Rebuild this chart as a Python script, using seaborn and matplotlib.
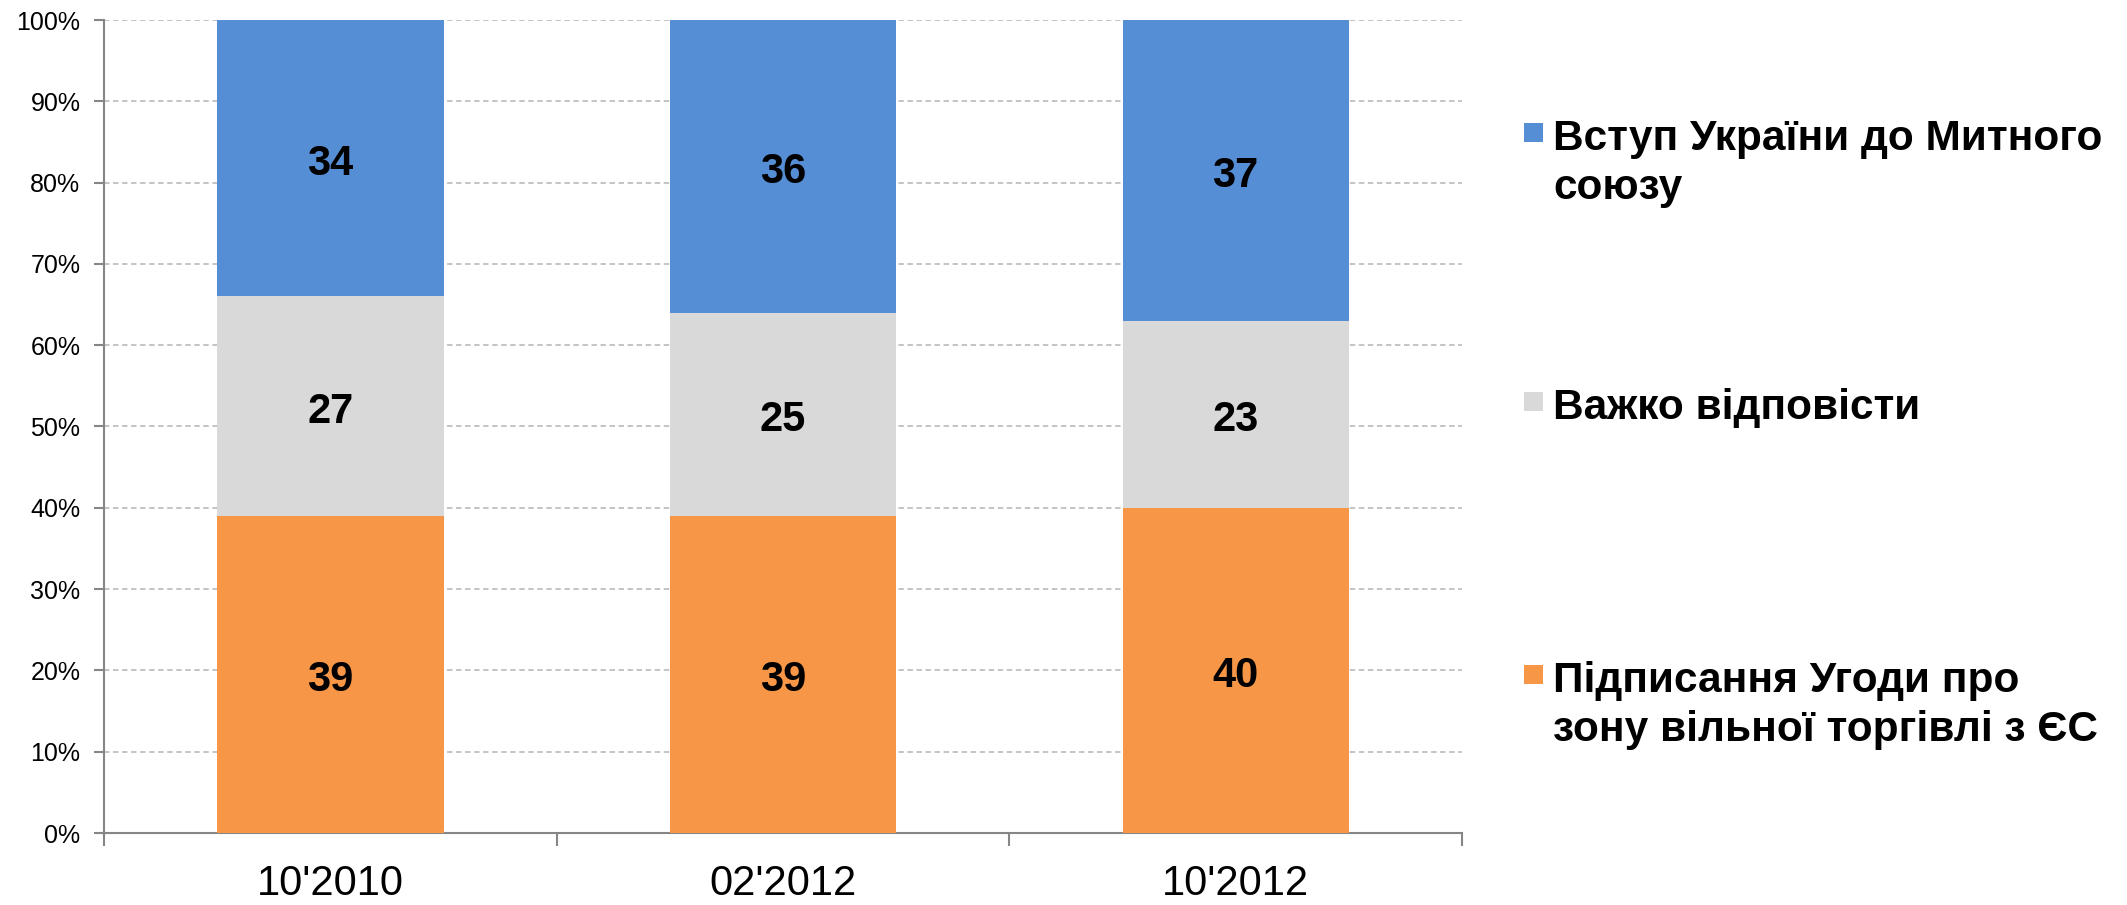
import matplotlib
matplotlib.use("Agg")
import matplotlib.pyplot as plt
import seaborn as sns
import pandas as pd
import numpy as np
from matplotlib.patches import Rectangle

periods = ["10'2010", "02'2012", "10'2012"]
eu_values = [39, 39, 40]          # Підписання Угоди про ЗВТ з ЄС
hard_values = [27, 25, 23]        # Важко відповісти
cu_values = [34, 36, 37]          # Вступ до Митного союзу
y_ticks = [0, 10, 20, 30, 40, 50, 60, 70, 80, 90, 100]

c_blue = "#558ED5"
c_grey = "#D9D9D9"
c_orange = "#F79646"

sns.set_theme(style="white")
plt.rcParams['font.family'] = ['Liberation Sans', 'DejaVu Sans']

W, H = 2127, 905
fig = plt.figure(figsize=(W / 100, H / 100), dpi=100)
ax = fig.add_axes([104 / W, (H - 833) / H, 1358 / W, 813 / H])

df = pd.DataFrame({"period": periods, "eu": eu_values, "hard": hard_values, "cu": cu_values})
tot = df["eu"] + df["hard"] + df["cu"]
df["eu_pct"] = df["eu"] / tot * 100
df["hard_pct"] = df["hard"] / tot * 100
df["cu_pct"] = df["cu"] / tot * 100

sns.barplot(data=df, x="period", y="eu_pct", color=c_orange, width=0.5, ax=ax,
            saturation=1, edgecolor="none", zorder=3)
sns.barplot(data=df, x="period", y="hard_pct", color=c_grey, width=0.5, ax=ax,
            saturation=1, edgecolor="none", bottom=df["eu_pct"].values, zorder=3)
sns.barplot(data=df, x="period", y="cu_pct", color=c_blue, width=0.5, ax=ax,
            saturation=1, edgecolor="none",
            bottom=(df["eu_pct"] + df["hard_pct"]).values, zorder=3)

# value labels
for i in range(len(periods)):
    b0 = 0
    for vals, pct in [(eu_values, df["eu_pct"]), (hard_values, df["hard_pct"]), (cu_values, df["cu_pct"])]:
        ax.annotate(str(vals[i]), xy=(i, b0 + pct[i] / 2), xytext=(0, -4),
                    textcoords="offset points", ha="center", va="center",
                    fontsize=30, fontweight="bold", color="black", zorder=5)
        b0 += pct[i]

ax.set_xlim(-0.5, 2.5)
ax.set_ylim(0, 100)
ax.set_yticks(y_ticks)
ax.set_yticklabels([f"{v}%" for v in y_ticks], fontsize=18)
ax.set_xticks(range(len(periods)))
ax.set_xticklabels(periods, fontsize=30)
ax.set_xticks([-0.5, 0.5, 1.5, 2.5], minor=True)
ax.set_xlabel("")
ax.set_ylabel("")

ax.yaxis.grid(True, color="#BFBFBF", linestyle=(0, (3, 2)), linewidth=1.3, zorder=0)
ax.xaxis.grid(False)
ax.set_axisbelow(True)

for s in ["top", "right"]:
    ax.spines[s].set_visible(False)
for s in ["left", "bottom"]:
    ax.spines[s].set_color("#868686")
    ax.spines[s].set_linewidth(1.5)

ax.tick_params(axis="y", which="major", direction="out", length=7, width=1.5,
               color="#868686", pad=10, left=True, labelcolor="black")
ax.tick_params(axis="x", which="major", length=0, pad=22, labelcolor="black")
ax.tick_params(axis="x", which="minor", direction="out", length=9, width=1.5,
               color="#868686", bottom=True)

# legend (manual, right side)
legend_items = [
    (c_blue, ["Вступ України до Митного", "союзу"], 150),
    (c_grey, ["Важко відповісти"], 419),
    (c_orange, ["Підписання Угоди про", "зону вільної торгівлі з ЄС"], 692),
]
for color, lines, base in legend_items:
    sq = 19
    fig.patches.append(Rectangle((1524 / W, (H - base + 8) / H), sq / W, sq / H,
                                 transform=fig.transFigure, facecolor=color,
                                 edgecolor="none"))
    for k, line in enumerate(lines):
        fig.text(1553 / W, (H - base - k * 49) / H, line, fontsize=30.5,
                 fontweight="bold", ha="left", va="baseline", color="black")

fig.savefig("out.png", dpi=100, facecolor="white")
